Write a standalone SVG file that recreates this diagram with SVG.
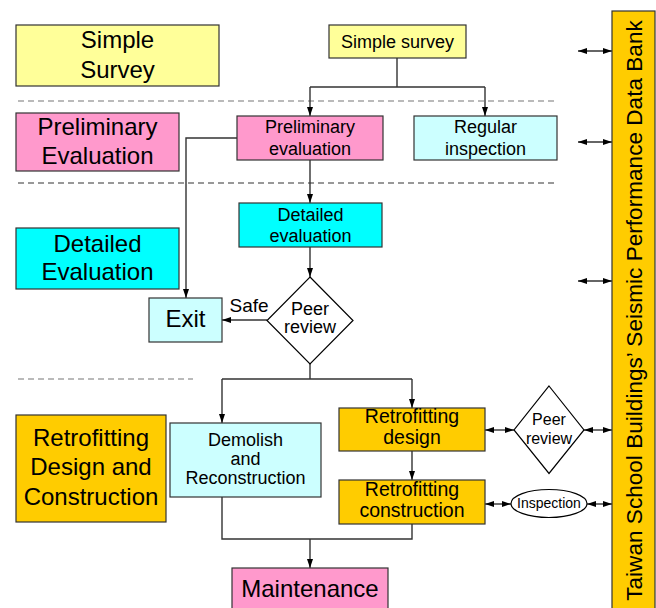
<svg xmlns="http://www.w3.org/2000/svg" width="656" height="608" viewBox="0 0 656 608">
<style>
text{font-family:"Liberation Sans",Arial,sans-serif;fill:#000;text-anchor:middle}
.box{stroke:#333;stroke-width:1.2}
.yel{fill:#FFFF99}.pink{fill:#FF99CC}.cyan{fill:#00FFFF}.lcyan{fill:#CCFFFF}.org{fill:#FFCC00}
.big{font-size:24px}.med{font-size:18px}.ret{font-size:19.5px}.dem{font-size:18px}
.ln{fill:none;stroke:#333;stroke-width:1.4}
.dash{fill:none;stroke-width:1.2;stroke-dasharray:6 4}
</style>
<defs>
<marker id="ah" markerUnits="userSpaceOnUse" markerWidth="10" markerHeight="8" refX="9" refY="3" orient="auto-start-reverse" viewBox="0 0 10 6">
<path d="M0,0 L9,3 L0,6 z" fill="#000"/>
</marker>
</defs>

<g id="dividers">
<line class="dash" x1="18" y1="101" x2="557" y2="101" stroke="#777"/>
<line class="dash" x1="18" y1="183" x2="557" y2="183" stroke="#333"/>
<line class="dash" x1="18" y1="379" x2="193" y2="379" stroke="#777"/>
</g>

<g id="label-simple-survey">
<rect class="box yel" x="16" y="25" width="203" height="61"/>
<text class="big" x="117.5" y="48">Simple</text>
<text class="big" x="117.5" y="78">Survey</text>
</g>
<g id="label-preliminary">
<rect class="box pink" x="16" y="113" width="163" height="58"/>
<text class="big" x="97.5" y="135">Preliminary</text>
<text class="big" x="97.5" y="164">Evaluation</text>
</g>
<g id="label-detailed">
<rect class="box cyan" x="16" y="228" width="163" height="61"/>
<text class="big" x="97.5" y="252">Detailed</text>
<text class="big" x="97.5" y="280">Evaluation</text>
</g>
<g id="label-retrofitting">
<rect class="box org" x="16" y="415" width="150" height="107"/>
<text class="big" x="91" y="446">Retrofitting</text>
<text class="big" x="91" y="475">Design and</text>
<text class="big" x="91" y="505">Construction</text>
</g>

<g id="connectors">
<path class="ln" d="M397,58 V87 M310,87 H485"/>
<path class="ln" d="M310,87 V116" marker-end="url(#ah)"/>
<path class="ln" d="M485,87 V116" marker-end="url(#ah)"/>
<path class="ln" d="M237,138 H186 V298" marker-end="url(#ah)"/>
<path class="ln" d="M310,160 V203" marker-end="url(#ah)"/>
<path class="ln" d="M310,247 V277" marker-end="url(#ah)"/>
<path class="ln" d="M267,320 H222" marker-end="url(#ah)"/>
<path class="ln" d="M310,364 V379 M222,379 H412"/>
<path class="ln" d="M222,379 V423" marker-end="url(#ah)"/>
<path class="ln" d="M412,379 V408" marker-end="url(#ah)"/>
<path class="ln" d="M222,497 V539 H412 V524"/>
<path class="ln" d="M310,539 V568" marker-end="url(#ah)"/>
<path class="ln" d="M412,451 V480" marker-end="url(#ah)"/>
<path class="ln" d="M485,430 H514" marker-start="url(#ah)" marker-end="url(#ah)"/>
<path class="ln" d="M584,430 H612" marker-start="url(#ah)" marker-end="url(#ah)"/>
<path class="ln" d="M485,504 H511" marker-start="url(#ah)" marker-end="url(#ah)"/>
<path class="ln" d="M587,504 H612" marker-start="url(#ah)" marker-end="url(#ah)"/>
<path class="ln" d="M578,51 H612" marker-start="url(#ah)" marker-end="url(#ah)"/>
<path class="ln" d="M578,142 H612" marker-start="url(#ah)" marker-end="url(#ah)"/>
<path class="ln" d="M578,281 H612" marker-start="url(#ah)" marker-end="url(#ah)"/>
<text x="249" y="311.5" style="font-size:19px">Safe</text>
</g>

<g id="simple-survey">
<rect class="box yel" x="329" y="25" width="137" height="33"/>
<text class="med" x="397.5" y="48">Simple survey</text>
</g>
<g id="preliminary-evaluation">
<rect class="box pink" x="237" y="116" width="146" height="44"/>
<text class="med" x="310" y="133">Preliminary</text>
<text class="med" x="310" y="155">evaluation</text>
</g>
<g id="regular-inspection">
<rect class="box lcyan" x="414" y="116" width="143" height="44"/>
<text class="med" x="485.5" y="133">Regular</text>
<text class="med" x="485.5" y="155">inspection</text>
</g>
<g id="detailed-evaluation">
<rect class="box cyan" x="239" y="203" width="143" height="44"/>
<text class="med" x="310.5" y="221">Detailed</text>
<text class="med" x="310.5" y="242">evaluation</text>
</g>
<g id="peer-review-1">
<polygon points="310,277 353,320.5 310,364 267,320.5" fill="#fff" stroke="#000" stroke-width="1.2"/>
<text class="med" x="310" y="314.5">Peer</text>
<text class="med" x="310" y="333">review</text>
</g>
<g id="exit">
<rect class="box lcyan" x="149" y="298" width="73" height="44"/>
<text class="big" x="185.5" y="327">Exit</text>
</g>
<g id="demolish">
<rect class="box lcyan" x="170" y="423" width="151" height="74"/>
<text class="dem" x="245.5" y="445.5">Demolish</text>
<text class="dem" x="245.5" y="464.5">and</text>
<text class="dem" x="245.5" y="483.5">Reconstruction</text>
</g>
<g id="retrofitting-design">
<rect class="box org" x="339" y="408" width="146" height="43"/>
<text class="ret" x="412" y="423">Retrofitting</text>
<text class="ret" x="412" y="444">design</text>
</g>
<g id="retrofitting-construction">
<rect class="box org" x="339" y="480" width="146" height="44"/>
<text class="ret" x="412" y="496">Retrofitting</text>
<text class="ret" x="412" y="517">construction</text>
</g>
<g id="peer-review-2">
<polygon points="549,386 584,430 549,473.5 514,430" fill="#fff" stroke="#000" stroke-width="1.2"/>
<text x="549" y="425" style="font-size:16px">Peer</text>
<text x="549" y="443.5" style="font-size:16px">review</text>
</g>
<g id="inspection">
<ellipse cx="549" cy="503.5" rx="38" ry="14" fill="#fff" stroke="#000" stroke-width="1.2"/>
<text x="549" y="508" style="font-size:14px">Inspection</text>
</g>
<g id="maintenance">
<rect class="box pink" x="232" y="568" width="156" height="50"/>
<text class="big" x="310" y="597">Maintenance</text>
</g>
<g id="data-bank">
<rect class="box org" x="612" y="11" width="43" height="610"/>
<text x="0" y="0" transform="translate(642,310.5) rotate(-90)" style="font-size:22.6px">Taiwan School Buildings’ Seismic Performance Data Bank</text>
</g>
</svg>
